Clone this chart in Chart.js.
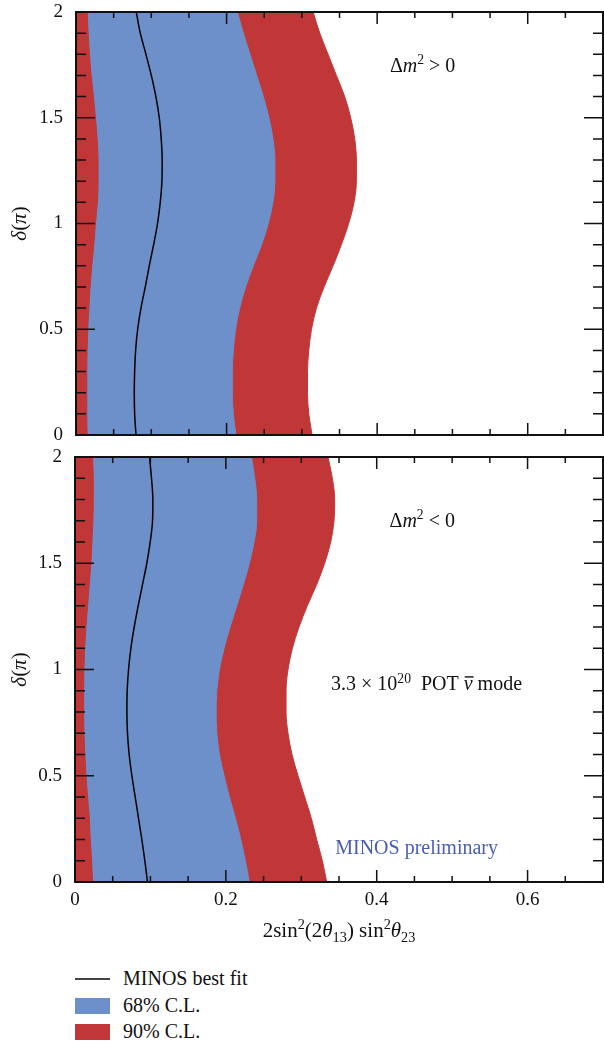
<!DOCTYPE html>
<html>
<head>
<meta charset="utf-8">
<script src="https://cdn.jsdelivr.net/npm/chart.js@4.4.0/dist/chart.umd.min.js"></script>
<style>
  body { margin: 0; background: #fff; }
  #wrap { position: relative; width: 604px; height: 1045px; font-family: "Liberation Serif", serif; color: #111; }
  canvas { position: absolute; left: 0; }
  .key { position: absolute; left: 75px; width: 35px; }
  .label { position: absolute; left: 123px; font-size: 20px; line-height: 1; white-space: nowrap; }
</style>
</head>
<body>
<div id="wrap">
  <canvas id="top" width="604" height="445" style="top:0"></canvas>
  <canvas id="bottom" width="604" height="505" style="top:445px"></canvas>

  <div class="key" style="top:978px;height:2px;background:#444"></div>
  <div class="label" style="top:968px">MINOS best fit</div>
  <div class="key" style="top:998px;height:16px;background:#6d8fca"></div>
  <div class="label" style="top:995px">68% C.L.</div>
  <div class="key" style="top:1024px;height:16px;background:#c13636"></div>
  <div class="label" style="top:1021px">90% C.L.</div>
</div>

<script>
// delta (in units of pi), sampled every 0.1
const delta = [0, 0.1, 0.2, 0.3, 0.4, 0.5, 0.6, 0.7, 0.8, 0.9, 1.0,
               1.1, 1.2, 1.3, 1.4, 1.5, 1.6, 1.7, 1.8, 1.9, 2.0];

// dm2 > 0
const posBestFit = [0.0797, 0.0779, 0.0774, 0.0779, 0.0792, 0.0819, 0.0863, 0.0920, 0.0973, 0.1031, 0.1083,
                    0.1119, 0.1141, 0.1145, 0.1132, 0.1106, 0.1061, 0.1000, 0.0929, 0.0854, 0.0801];
const posRedLeft = [0.0148, 0.0143, 0.0143, 0.0143, 0.0148, 0.0156, 0.0170, 0.0187, 0.0209, 0.0236, 0.0258,
                    0.0284, 0.0293, 0.0293, 0.0280, 0.0258, 0.0231, 0.0201, 0.0178, 0.0161, 0.0148];
const posBlueRight = [0.2125, 0.2090, 0.2077, 0.2077, 0.2090, 0.2121, 0.2174, 0.2254, 0.2355, 0.2466, 0.2554,
                      0.2616, 0.2642, 0.2642, 0.2616, 0.2563, 0.2488, 0.2400, 0.2311, 0.2223, 0.2143];
const posRedRight = [0.3136, 0.3092, 0.3075, 0.3075, 0.3092, 0.3128, 0.3194, 0.3295, 0.3415, 0.3525, 0.3622,
                     0.3693, 0.3724, 0.3724, 0.3702, 0.3649, 0.3569, 0.3459, 0.3348, 0.3238, 0.3150];

// dm2 < 0
const negBestFit = [0.0961, 0.0926, 0.0886, 0.0842, 0.0798, 0.0754, 0.0718, 0.0696, 0.0688, 0.0692, 0.0710,
                    0.0741, 0.0785, 0.0838, 0.0895, 0.0952, 0.0997, 0.1028, 0.1032, 0.1014, 0.0988];
const negRedLeft = [0.0233, 0.0220, 0.0202, 0.0189, 0.0167, 0.0145, 0.0131, 0.0118, 0.0114, 0.0114, 0.0118,
                    0.0127, 0.0145, 0.0167, 0.0189, 0.0211, 0.0224, 0.0237, 0.0242, 0.0242, 0.0233];
const negBlueRight = [0.2312, 0.2259, 0.2198, 0.2127, 0.2047, 0.1977, 0.1915, 0.1880, 0.1871, 0.1880, 0.1915,
                      0.1977, 0.2056, 0.2145, 0.2233, 0.2312, 0.2374, 0.2409, 0.2409, 0.2383, 0.2339];
const negRedRight = [0.3337, 0.3279, 0.3204, 0.3133, 0.3045, 0.2957, 0.2877, 0.2824, 0.2798, 0.2798, 0.2824,
                     0.2882, 0.2970, 0.3080, 0.3204, 0.3310, 0.3390, 0.3434, 0.3443, 0.3412, 0.3354];

const BLUE = '#6d8fca';
const RED = '#c13636';
const FONT = '"Liberation Serif", serif';

const pts = (xs) => xs.map((x, i) => ({ x: x, y: delta[i] }));
const isMult = (v, step) => Math.abs(v / step - Math.round(v / step)) < 1e-6;

// runs: [text, flags] flags: i = italic, p = superscript, b = subscript, o = overline
function richWidth(ctx, runs, size) {
  let w = 0;
  runs.forEach(([t, f = '']) => {
    const fs = (f.includes('p') || f.includes('b')) ? size * 0.68 : size;
    ctx.font = (f.includes('i') ? 'italic ' : '') + fs + 'px ' + FONT;
    w += ctx.measureText(t).width;
  });
  return w;
}

function drawRich(ctx, runs, x, y, size, color) {
  let cx = x;
  ctx.fillStyle = color;
  ctx.strokeStyle = color;
  ctx.textBaseline = 'alphabetic';
  ctx.textAlign = 'left';
  runs.forEach(([t, f = '']) => {
    const small = f.includes('p') || f.includes('b');
    const fs = small ? size * 0.68 : size;
    ctx.font = (f.includes('i') ? 'italic ' : '') + fs + 'px ' + FONT;
    let dy = 0;
    if (f.includes('p')) dy = -size * 0.38;
    if (f.includes('b')) dy = size * 0.22;
    ctx.fillText(t, cx, y + dy);
    const w = ctx.measureText(t).width;
    if (f.includes('o')) {
      ctx.lineWidth = 1.4;
      ctx.beginPath();
      ctx.moveTo(cx + 1, y - size * 0.66);
      ctx.lineTo(cx + w + 1, y - size * 0.66);
      ctx.stroke();
    }
    cx += w;
  });
}

const noPad = (s) => { s.paddingTop = 0; s.paddingBottom = 0; s.paddingLeft = 0; s.paddingRight = 0; };

const frame = {
  id: 'frame',
  afterDatasetsDraw(chart) {
    const { ctx, chartArea: a, scales: { x, y } } = chart;
    ctx.save();
    ctx.strokeStyle = '#111';
    ctx.lineWidth = 2;
    ctx.strokeRect(a.left, a.top, a.right - a.left, a.bottom - a.top);
    ctx.lineWidth = 1.5;
    ctx.beginPath();
    x.ticks.forEach((t) => {
      const px = x.getPixelForValue(t.value);
      const len = isMult(t.value, 0.2) ? 12 : 6;
      ctx.moveTo(px, a.bottom); ctx.lineTo(px, a.bottom - len);
      ctx.moveTo(px, a.top); ctx.lineTo(px, a.top + len);
    });
    y.ticks.forEach((t) => {
      const py = y.getPixelForValue(t.value);
      const len = isMult(t.value, 0.5) ? 19 : 10;
      ctx.moveTo(a.left, py); ctx.lineTo(a.left + len, py);
      ctx.moveTo(a.right, py); ctx.lineTo(a.right - len, py);
    });
    ctx.stroke();
    ctx.restore();
  }
};

const notes = {
  id: 'notes',
  afterDraw(chart, args, opts) {
    const { ctx, chartArea: a, scales: { x, y } } = chart;
    ctx.save();
    (opts.items || []).forEach((n) => {
      drawRich(ctx, n.runs, x.getPixelForValue(n.x), y.getPixelForValue(n.y), 20, n.color || '#111');
    });
    // y axis title
    const yRuns = [['δ', 'i'], ['('], ['π', 'i'], [')']];
    const yw = richWidth(ctx, yRuns, 21);
    ctx.translate(26, (a.top + a.bottom) / 2);
    ctx.rotate(-Math.PI / 2);
    drawRich(ctx, yRuns, -yw / 2, 0, 21, '#111');
    ctx.restore();
    if (opts.xTitle) {
      const xRuns = [['2sin'], ['2', 'p'], ['(2'], ['θ', 'i'], ['13', 'b'], [') sin'], ['2', 'p'], ['θ', 'i'], ['23', 'b']];
      const xw = richWidth(ctx, xRuns, 21);
      ctx.save();
      drawRich(ctx, xRuns, (a.left + a.right) / 2 - xw / 2, a.bottom + 55, 21, '#111');
      ctx.restore();
    }
  }
};

function panel(canvasId, bestFit, redLeft, blueRight, redRight, items, showX, axisLeft) {
  return new Chart(document.getElementById(canvasId), {
    type: 'line',
    data: {
      datasets: [
        { label: 'MINOS best fit', data: pts(bestFit), borderColor: '#000', borderWidth: 1.5, fill: false },
        { label: '90% C.L.', data: pts(redLeft), borderColor: RED, backgroundColor: RED, borderWidth: 1, fill: 'origin' },
        { label: '68% C.L.', data: pts(blueRight), borderColor: BLUE, backgroundColor: BLUE, borderWidth: 1, fill: 'origin' },
        { label: '90% C.L.', data: pts(redRight), borderColor: RED, backgroundColor: RED, borderWidth: 1, fill: 'origin' }
      ]
    },
    options: {
      indexAxis: 'y',
      responsive: false,
      animation: false,
      elements: { point: { radius: 0 }, line: { cubicInterpolationMode: 'monotone' } },
      layout: { padding: { top: 12, right: 1, left: 0, bottom: showX ? 8 : 10 } },
      plugins: {
        legend: { display: false },
        tooltip: { enabled: false },
        notes: { items: items, xTitle: showX }
      },
      scales: {
        x: {
          type: 'linear',
          min: 0,
          max: 0.7,
          grid: { display: false, drawTicks: false },
          border: { display: false },
          afterFit: (s) => { s.height = showX ? 60 : 0; noPad(s); },
          ticks: {
            display: showX,
            stepSize: 0.05,
            autoSkip: false,
            maxRotation: 0,
            padding: 7,
            color: '#111',
            font: { family: FONT, size: 19 },
            callback: (v) => isMult(v, 0.2) ? String(+v.toFixed(1)) : ''
          }
        },
        y: {
          type: 'linear',
          min: 0,
          max: 2,
          grid: { display: false, drawTicks: false },
          border: { display: false },
          afterFit: (s) => { s.width = axisLeft; noPad(s); },
          ticks: {
            stepSize: 0.1,
            autoSkip: false,
            padding: 13,
            color: '#111',
            font: { family: FONT, size: 19 },
            callback: (v) => isMult(v, 0.5) ? String(+v.toFixed(1)) : ''
          }
        }
      }
    },
    plugins: [frame, notes]
  });
}

panel('top', posBestFit, posRedLeft, posBlueRight, posRedRight, [
  { x: 0.417, y: 1.716, runs: [['Δ'], ['m', 'i'], ['2', 'p'], [' > 0']] }
], false, 76);

panel('bottom', negBestFit, negRedLeft, negBlueRight, negRedRight, [
  { x: 0.417, y: 1.672, runs: [['Δ'], ['m', 'i'], ['2', 'p'], [' < 0']] },
  { x: 0.3395, y: 0.903, runs: [['3.3 × 10'], ['20', 'p'], ['  POT '], ['ν', 'io'], [' mode']] },
  { x: 0.345, y: 0.134, runs: [['MINOS preliminary']], color: '#4a5db0' }
], true, 75);
</script>
</body>
</html>
